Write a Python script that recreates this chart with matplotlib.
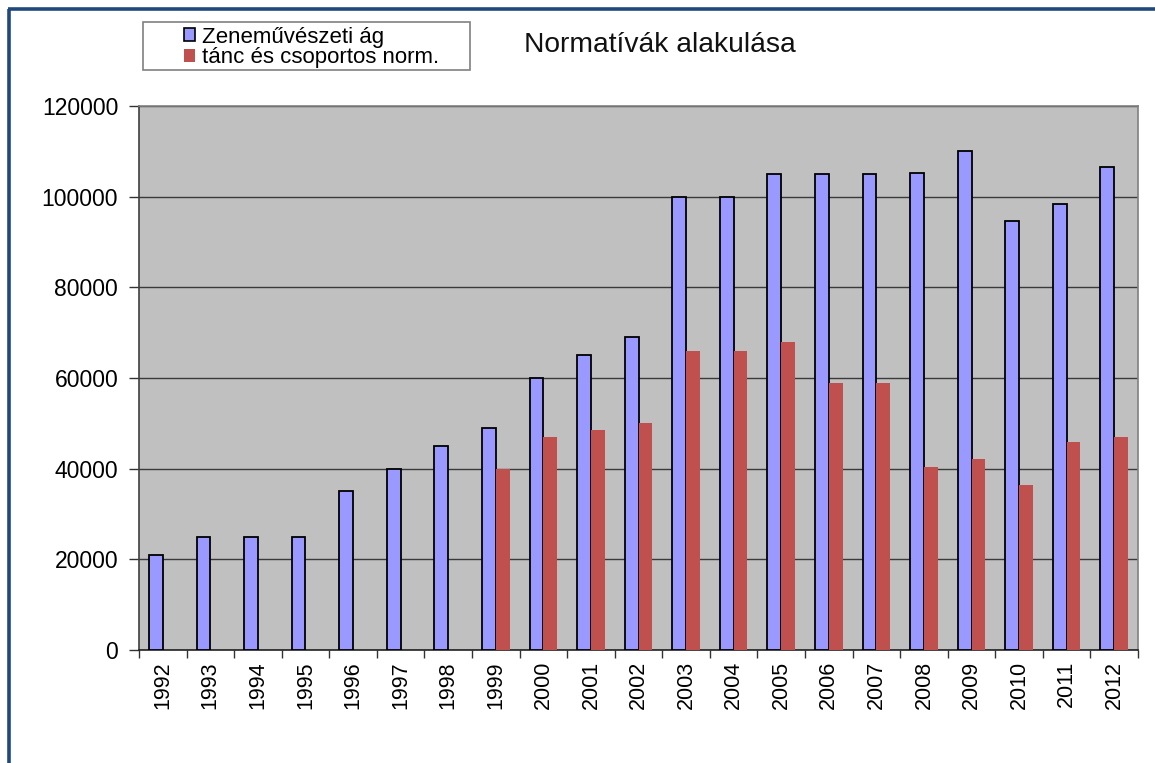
import numpy as np
import matplotlib
matplotlib.use("Agg")
import matplotlib.pyplot as plt
from matplotlib.patches import Patch, Rectangle
from matplotlib.lines import Line2D

years = ["1992", "1993", "1994", "1995", "1996", "1997", "1998", "1999", "2000", "2001", "2002",
         "2003", "2004", "2005", "2006", "2007", "2008", "2009", "2010", "2011", "2012"]
zene = [21000, 25000, 25000, 25000, 35000, 40000, 45000, 49000, 60000, 65000, 69000,
        100000, 100000, 105000, 105000, 105000, 105200, 110000, 94700, 98300, 106500]
tanc = [None, None, None, None, None, None, None, 40000, 47000, 48500, 50000,
        66000, 66000, 68000, 59000, 59000, 40400, 42100, 36400, 45900, 46900]
label_zene = "Zeneművészeti ág"
label_tanc = "tánc és csoportos norm."
title = "Normatívák alakulása"
yticks = [0, 20000, 40000, 60000, 80000, 100000, 120000]

plt.rcParams['font.family'] = ['Liberation Sans', 'DejaVu Sans']

W, H = 1155, 763
fig = plt.figure(figsize=(W / 100, H / 100), dpi=100)
fig.patch.set_facecolor('white')

ax = fig.add_axes([139 / W, 1 - 650 / H, (1138 - 139) / W, (650 - 106) / H])
ax.set_facecolor('#C0C0C0')

blue = '#9999FF'
red = '#C0504D'
bw = 0.29
idx = np.arange(len(years))

ax.bar(idx - bw / 2, zene, width=bw, color=blue, edgecolor='black', linewidth=1.3, zorder=3)
t_idx = [i for i, v in enumerate(tanc) if v is not None]
t_val = [tanc[i] for i in t_idx]
ax.bar(np.array(t_idx) + bw / 2, t_val, width=bw, color=red, edgecolor='none', zorder=3)

ax.set_xlim(-0.5, len(years) - 0.5)
ax.set_ylim(0, 120000)
ax.set_yticks(yticks)
ax.set_yticklabels([str(v) for v in yticks], fontsize=16.5)
ax.yaxis.grid(True, color='#3a3a3a', linewidth=1.0, zorder=1)
ax.set_axisbelow(True)

ax.set_xticks(idx)
ax.set_xticklabels(years, rotation=90, fontsize=15.5)
ax.set_xticks(np.arange(len(years) + 1) - 0.5, minor=True)
ax.tick_params(axis='x', which='major', length=0, pad=8)
ax.tick_params(axis='x', which='minor', length=6, width=1.0, color='#333333', direction='out')
ax.tick_params(axis='y', which='major', length=7, width=1.0, color='#333333', direction='out', pad=8)

for s in ['top', 'right']:
    ax.spines[s].set_color('#808080')
    ax.spines[s].set_linewidth(1.2)
ax.spines['left'].set_color('#404040')
ax.spines['left'].set_linewidth(1.2)
ax.spines['bottom'].set_color('#222222')
ax.spines['bottom'].set_linewidth(1.2)

# title
fig.text(660 / W, 1 - 45 / H, title, fontsize=20.3, ha='center', va='center', color='#111111')

# legend box
fig.patches.append(Rectangle((143 / W, 1 - 70 / H), (470 - 143) / W, (70 - 22) / H,
                             transform=fig.transFigure, facecolor='white', edgecolor='#808080',
                             linewidth=1.2, zorder=1))
handles = [Patch(facecolor=blue, edgecolor='black', linewidth=1.2, label=label_zene),
           Patch(facecolor=red, edgecolor='none', label=label_tanc)]
leg = fig.legend(handles=handles, loc='center left', bbox_to_anchor=(184 / W, 1 - 47.5 / H),
                 frameon=False, fontsize=16, handlelength=0.5, handleheight=0.5,
                 handletextpad=0.3, labelspacing=0.0, borderpad=0, borderaxespad=0)

# outer dark blue border (left and top)
fig.add_artist(Line2D([9 / W, 9 / W], [0, 1 - 8.5 / H], transform=fig.transFigure,
                      color='#1F497D', linewidth=2.6, solid_capstyle='butt'))
fig.add_artist(Line2D([7.7 / W, 1], [1 - 8.5 / H, 1 - 8.5 / H], transform=fig.transFigure,
                      color='#1F497D', linewidth=2.6, solid_capstyle='butt'))

fig.savefig('out.png', dpi=100, facecolor='white')
